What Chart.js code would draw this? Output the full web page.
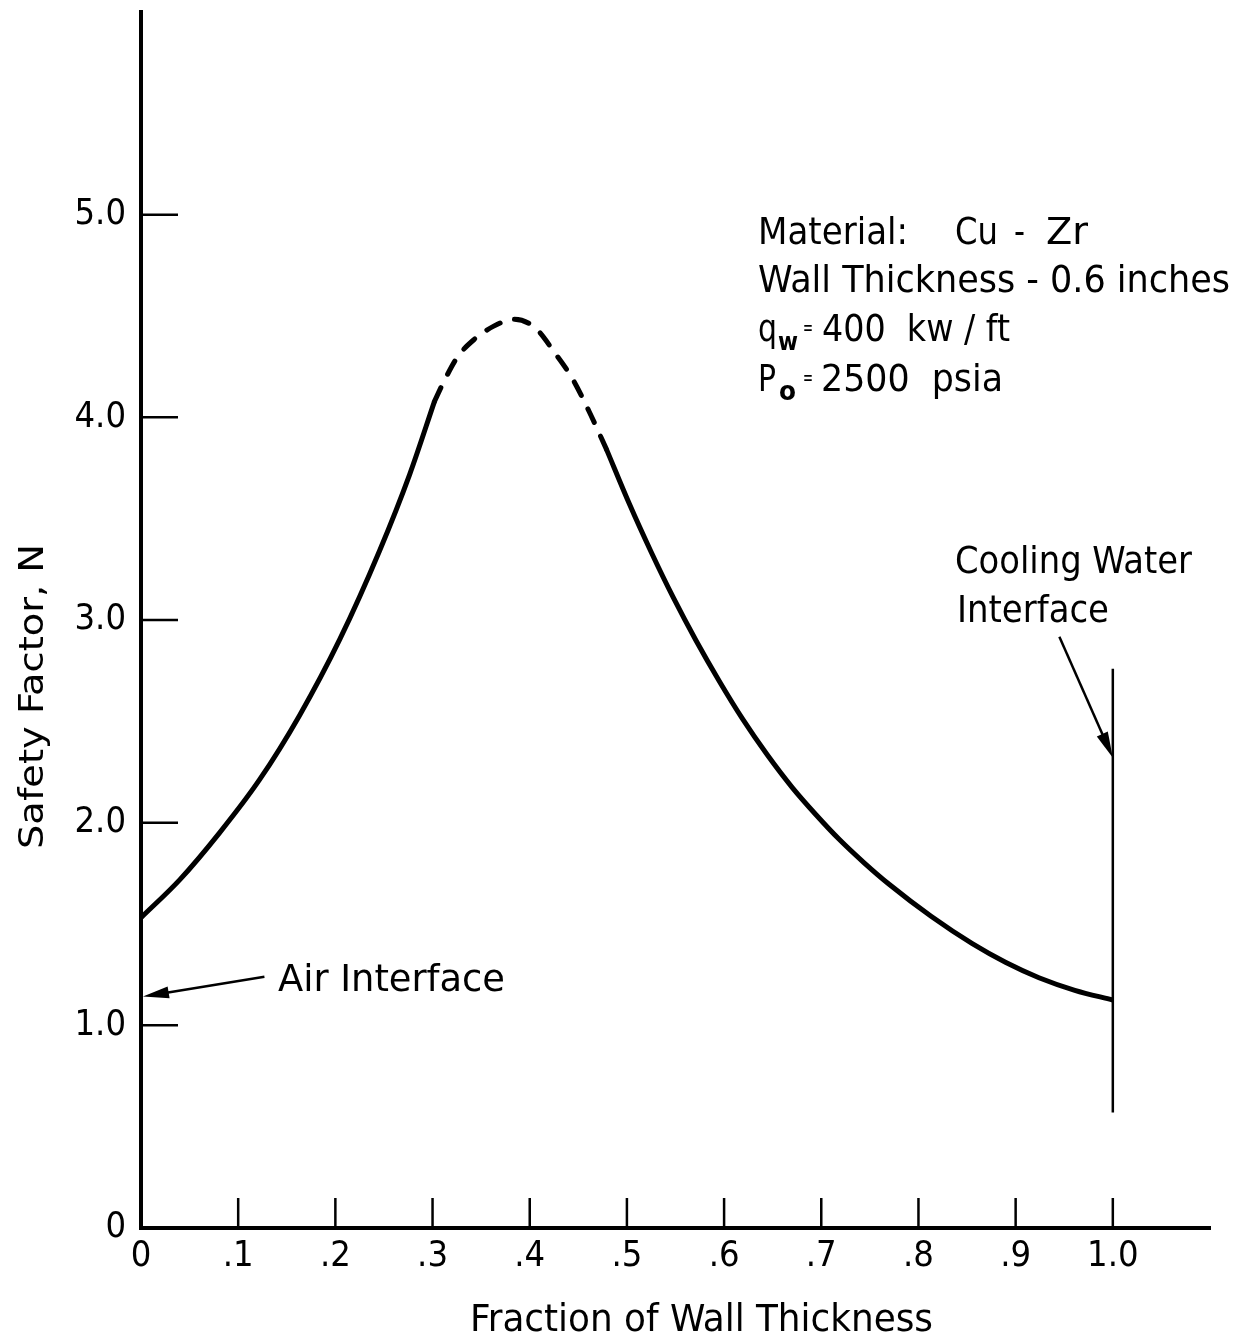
<!DOCTYPE html>
<html>
<head>
<meta charset="utf-8">
<script src="https://cdn.jsdelivr.net/npm/chart.js@4.4.0/dist/chart.umd.min.js"></script>
<style>
  body { margin: 0; background: #fff; }
  canvas { display: block; }
</style>
</head>
<body>
<canvas id="chart" width="1244" height="1340"></canvas>
<script>
const FONT = "'DejaVu Sans Condensed', 'Liberation Sans Narrow', 'DejaVu Sans', sans-serif";

// tick values and labels
const xTicks = [0, 0.1, 0.2, 0.3, 0.4, 0.5, 0.6, 0.7, 0.8, 0.9, 1.0];
const xTickLabels = ["0", ".1", ".2", ".3", ".4", ".5", ".6", ".7", ".8", ".9", "1.0"];
const yTicks = [0, 1, 2, 3, 4, 5];
const yTickLabels = ["0", "1.0", "2.0", "3.0", "4.0", "5.0"];

// safety factor curve
// rising part (solid)
const riseX = [0, 0.040, 0.081, 0.122, 0.163, 0.2045, 0.2456, 0.2765, 0.302];
const riseY = [1.531, 1.719, 1.951, 2.212, 2.528, 2.904, 3.343, 3.719, 4.079];
// peak (dashed)
const peakX = [0.302, 0.312, 0.326, 0.343, 0.363, 0.384, 0.405, 0.427, 0.444, 0.461, 0.479];
const peakY = [4.079, 4.18, 4.30, 4.385, 4.45, 4.484, 4.444, 4.31, 4.19, 4.03, 3.842];
// falling part (solid)
const fallX = [0.479, 0.5026, 0.5252, 0.5478, 0.5711, 0.5951, 0.619, 0.6444, 0.6704, 0.6948,
               0.7184, 0.7441, 0.7698, 0.813, 0.8554, 0.89, 0.924, 0.9609, 1.0];
const fallY = [3.842, 3.572, 3.333, 3.110, 2.899, 2.698, 2.512, 2.335, 2.172, 2.038,
               1.918, 1.802, 1.696, 1.538, 1.403, 1.310, 1.235, 1.173, 1.125];
// cooling water wall
const wallX = [1.0, 1.0];
const wallY = [0.57, 2.76];

const pts = (xs, ys) => xs.map((x, i) => ({ x: x, y: ys[i] }));

function fitText(ctx, text, x, y, w, size, weight) {
  ctx.font = (weight || "normal") + " " + size + "px " + FONT;
  const m = ctx.measureText(text).width;
  ctx.save();
  ctx.translate(x, y);
  ctx.scale(w / m, 1);
  ctx.textAlign = "left";
  ctx.textBaseline = "alphabetic";
  ctx.fillText(text, 0, 0);
  ctx.restore();
}

function arrow(ctx, x1, y1, x2, y2) {
  const a = Math.atan2(y2 - y1, x2 - x1);
  const len = 26, half = 6;
  ctx.lineWidth = 2.5;
  ctx.beginPath();
  ctx.moveTo(x1, y1);
  ctx.lineTo(x2 - Math.cos(a) * len * 0.8, y2 - Math.sin(a) * len * 0.8);
  ctx.stroke();
  ctx.beginPath();
  ctx.moveTo(x2, y2);
  ctx.lineTo(x2 - Math.cos(a) * len - Math.sin(a) * half, y2 - Math.sin(a) * len + Math.cos(a) * half);
  ctx.lineTo(x2 - Math.cos(a) * len + Math.sin(a) * half, y2 - Math.sin(a) * len - Math.cos(a) * half);
  ctx.closePath();
  ctx.fill();
}

const decor = {
  id: "decor",
  afterDraw(chart) {
    const ctx = chart.ctx;
    const xs = chart.scales.x, ys = chart.scales.y;
    const X = v => xs.getPixelForValue(v), Y = v => ys.getPixelForValue(v);
    const area = chart.chartArea;
    ctx.save();
    ctx.strokeStyle = "#000";
    ctx.fillStyle = "#000";
    ctx.lineCap = "butt";

    // inward tick marks
    ctx.lineWidth = 2.5;
    xTicks.slice(1).forEach(v => {
      ctx.beginPath();
      ctx.moveTo(X(v), area.bottom);
      ctx.lineTo(X(v), area.bottom - 30);
      ctx.stroke();
    });
    yTicks.slice(1).forEach(v => {
      ctx.beginPath();
      ctx.moveTo(area.left, Y(v));
      ctx.lineTo(area.left + 37, Y(v));
      ctx.stroke();
    });

    // axis titles
    ctx.save();
    ctx.translate(43, 697);
    ctx.rotate(-Math.PI / 2);
    fitText(ctx, "Safety Factor, N", -152, 0, 305, 34);
    ctx.restore();
    fitText(ctx, "Fraction of Wall Thickness", 470, 1331, 463, 37);

    // condition notes
    fitText(ctx, "Material:", 758, 244, 150, 38);
    fitText(ctx, "Cu", 955, 244, 43, 38);
    fitText(ctx, "-", 1014, 244, 11, 38);
    fitText(ctx, "Zr", 1046, 244, 42, 38);
    fitText(ctx, "Wall Thickness - 0.6 inches", 758, 292, 472, 38);
    fitText(ctx, "q", 758, 341, 19, 38);
    fitText(ctx, "w", 778, 350, 20, 24, "bold");
    fitText(ctx, "=", 803, 335, 10, 22);
    fitText(ctx, "400  kw / ft", 822, 341, 188, 38);
    fitText(ctx, "P", 758, 391, 18, 38);
    fitText(ctx, "o", 779, 400, 17, 26, "bold");
    fitText(ctx, "=", 803, 385, 10, 22);
    fitText(ctx, "2500  psia", 821, 391, 182, 38);

    // interface callouts
    fitText(ctx, "Cooling Water", 955, 573, 237, 38);
    fitText(ctx, "Interface", 957, 622, 152, 38);
    arrow(ctx, X(0.945), Y(2.917), X(1.0), Y(2.32));
    fitText(ctx, "Air Interface", 278, 991, 227, 38);
    arrow(ctx, X(0.127), Y(1.24), X(0.002), Y(1.142));

    ctx.restore();
  }
};

new Chart(document.getElementById("chart"), {
  type: "scatter",
  data: {
    datasets: [
      { data: pts(riseX, riseY), borderColor: "#000", borderWidth: 5 },
      { data: pts(peakX, peakY), borderColor: "#000", borderWidth: 5, borderDash: [15, 15], borderCapStyle: "round" },
      { data: pts(fallX, fallY), borderColor: "#000", borderWidth: 5 },
      { data: pts(wallX, wallY), borderColor: "#000", borderWidth: 2.5 },
    ],
  },
  options: {
    responsive: false,
    animation: false,
    events: [],
    layout: { padding: { top: 12, right: 34, left: 0, bottom: 0 } },
    datasets: {
      scatter: {
        showLine: true,
        pointRadius: 0,
        cubicInterpolationMode: "monotone",
        clip: false,
      },
    },
    plugins: {
      legend: { display: false },
      tooltip: { enabled: false },
    },
    scales: {
      x: {
        type: "linear",
        min: 0,
        max: 1.1,
        afterFit(scale) { scale.height = 112; scale.paddingLeft = 0; scale.paddingRight = 0; },
        afterBuildTicks(scale) { scale.ticks = xTicks.map(v => ({ value: v })); },
        grid: { display: false, drawTicks: false },
        border: { display: true, color: "#000", width: 4 },
        ticks: {
          padding: 7,
          color: "#000",
          font: { family: FONT, size: 36 },
          autoSkip: false,
          maxRotation: 0,
          callback: (v, i) => xTickLabels[i],
        },
      },
      y: {
        type: "linear",
        min: 0,
        max: 6,
        afterFit(scale) { scale.width = 141; scale.paddingTop = 0; scale.paddingBottom = 0; },
        afterBuildTicks(scale) { scale.ticks = yTicks.map(v => ({ value: v })); },
        grid: { display: false, drawTicks: false },
        border: { display: true, color: "#000", width: 4 },
        ticks: {
          padding: 15,
          color: "#000",
          font: { family: FONT, size: 36 },
          autoSkip: false,
          callback: (v, i) => yTickLabels[i],
        },
      },
    },
  },
  plugins: [decor],
});
</script>
</body>
</html>
